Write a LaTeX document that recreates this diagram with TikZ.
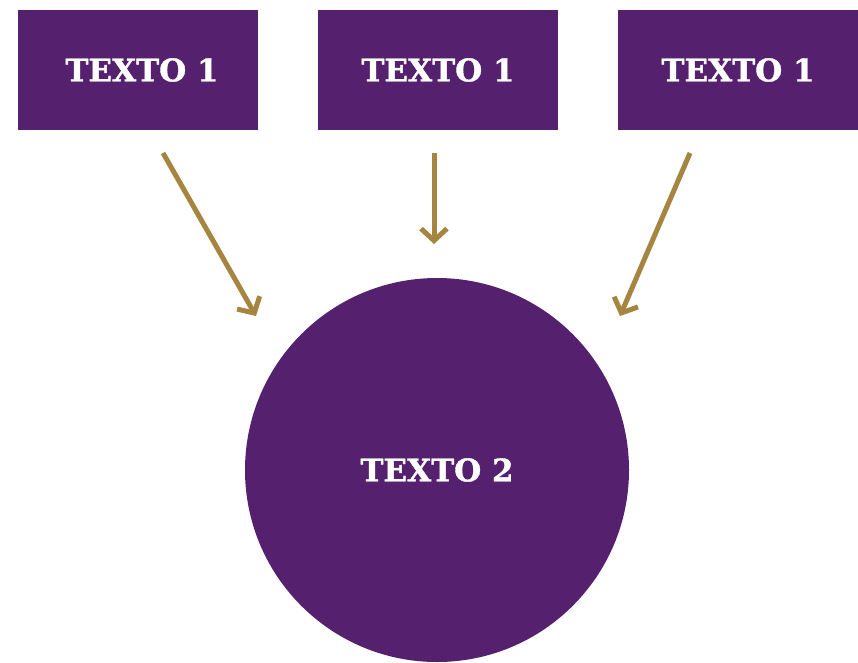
\documentclass[tikz,border=0pt]{standalone}
\usepackage{fontspec}
\setmainfont{DejaVu Serif}
\newfontfamily\slab[FakeBold=1.2]{DejaVu Serif Bold}
\usetikzlibrary{arrows.meta}
\definecolor{plum}{HTML}{55216F}
\definecolor{gold}{HTML}{A58540}
\begin{document}
\begin{tikzpicture}[x=1pt,y=-1pt,
  box/.style={fill=plum,draw=none,minimum width=240pt,minimum height=120pt,inner sep=0pt,text=white,font=\slab\fontsize{31}{34}\selectfont},
  bigc/.style={circle,fill=plum,draw=none,minimum size=384pt,inner sep=0pt,text=white,font=\slab\fontsize{31}{34}\selectfont},
  arr/.style={draw=gold,line width=5pt,-{Straight Barb[length=12pt,width=26pt,line width=5pt]}}]
\useasboundingbox (0,0) rectangle (858,662);
\node[box] (b1) at (138,70) {\hspace*{8pt}TEXTO 1};
\node[box] (b2) at (438,70) {TEXTO 1};
\node[box] (b3) at (738,70) {TEXTO 1};
\node[bigc] (c) at (437,470) {TEXTO 2};
\coordinate (s1) at (163,153);
\coordinate (e1) at (256,316);
\coordinate (s2) at (434,153);
\coordinate (e2) at (434,244);
\coordinate (s3) at (690,153);
\coordinate (e3) at (620,316);
\draw[arr] (s1) -- (e1);
\draw[arr] (s2) -- (e2);
\draw[arr] (s3) -- (e3);
\end{tikzpicture}
\end{document}
